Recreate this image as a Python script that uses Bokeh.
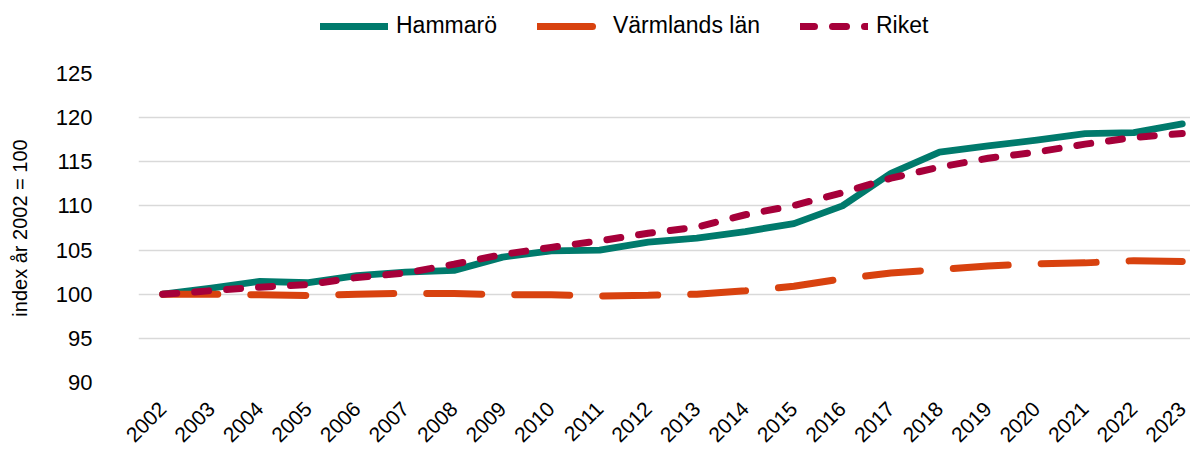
import math
from bokeh.plotting import figure
from bokeh.layouts import column
from bokeh.models import ColumnDataSource, FixedTicker, Legend, LegendItem, Range1d
from bokeh.embed import file_html
from bokeh.resources import INLINE

years = list(range(2002, 2024))
hammaro = [100.0, 100.7, 101.45, 101.3, 102.1, 102.5, 102.7, 104.2, 104.9, 105.0, 105.9,
           106.35, 107.1, 108.0, 110.0, 113.7, 116.1, 116.8, 117.45, 118.2, 118.3, 119.3]
varmland = [100.0, 100.0, 99.93, 99.85, 100.0, 100.1, 100.07, 99.96, 99.93, 99.8, 99.88,
            100.0, 100.4, 100.9, 101.75, 102.4, 102.8, 103.2, 103.45, 103.55, 103.8, 103.7]
riket = [100.0, 100.4, 100.8, 101.1, 101.9, 102.4, 103.4, 104.5, 105.3, 106.05, 106.9,
         107.6, 109.0, 110.05, 111.5, 113.15, 114.4, 115.4, 116.1, 117.0, 117.75, 118.2]
y_ticks = [90, 95, 100, 105, 110, 115, 120, 125]
series_names = ["Hammarö", "Värmlands län", "Riket"]

FONT = "Liberation Sans"
TEAL = "#007A6C"
ORANGE = "#D8420F"
MAROON = "#A6003A"
W = 1190

styles = [dict(line_color=TEAL, line_width=6.8, line_cap="round", line_join="round"),
          dict(line_color=ORANGE, line_width=7, line_cap="round", line_dash="55 33"),
          dict(line_color=MAROON, line_width=7, line_cap="round", line_dash="14 18")]

src = ColumnDataSource(dict(x=years, h=hammaro, v=varmland, r=riket))

# ---- main chart ----
p = figure(width=W, height=398, output_backend="svg", toolbar_location=None,
           x_range=Range1d(2001.5, 2023.17), y_range=Range1d(90, 125),
           min_border_left=138, min_border_right=0, min_border_bottom=67,
           min_border_top=20)
p.outline_line_color = None
p.background_fill_color = "white"
p.border_fill_color = "white"

p.xgrid.grid_line_color = None
p.ygrid.grid_line_color = "#D9D9D9"
p.ygrid.grid_line_width = 1.5

p.yaxis.ticker = FixedTicker(ticks=y_ticks)
p.xaxis.ticker = FixedTicker(ticks=years)
for ax in (p.xaxis, p.yaxis):
    ax.axis_line_color = None
    ax.major_tick_line_color = None
    ax.minor_tick_line_color = None
    ax.major_tick_out = 0
    ax.major_tick_in = 0
    ax.major_label_text_font = FONT
    ax.major_label_text_color = "#000000"
p.yaxis.major_label_text_font_size = "22px"
p.xaxis.major_label_text_font_size = "21px"
p.yaxis.major_label_standoff = 46
p.xaxis.major_label_orientation = math.pi / 4
p.xaxis.major_label_standoff = 23
p.yaxis.axis_label = "index år 2002 = 100"
p.yaxis.axis_label_text_font = FONT
p.yaxis.axis_label_text_font_size = "20px"
p.yaxis.axis_label_text_font_style = "normal"
p.yaxis.axis_label_text_color = "#000000"
p.yaxis.axis_label_standoff = 22

p.line("x", "h", source=src, **styles[0])
p.line("x", "v", source=src, **styles[1])
p.line("x", "r", source=src, **styles[2])

# ---- legend strip (series drawn outside its visible range; only the legend shows) ----
lf = figure(width=W, height=53, output_backend="svg", toolbar_location=None,
            x_range=Range1d(0, 1), y_range=Range1d(0, 1),
            x_axis_type=None, y_axis_type=None,
            min_border_left=0, min_border_right=0, min_border_top=0, min_border_bottom=0)
lf.outline_line_color = None
lf.background_fill_color = "white"
lf.border_fill_color = "white"
dummies = [lf.line("x", col, source=src, **st) for col, st in zip(["h", "v", "r"], styles)]

legend = Legend(items=[LegendItem(label=n, renderers=[r]) for n, r in zip(series_names, dummies)],
                orientation="horizontal", location=(182, 14),
                label_text_font=FONT, label_text_font_size="23px",
                label_text_color="#000000",
                glyph_width=68, glyph_height=26, label_height=26,
                label_standoff=8, spacing=40,
                border_line_color=None, background_fill_alpha=0,
                padding=0, margin=0)
lf.add_layout(legend, "center")

layout = column(lf, p, spacing=0)
open("out.html", "w").write(file_html(layout, INLINE))
